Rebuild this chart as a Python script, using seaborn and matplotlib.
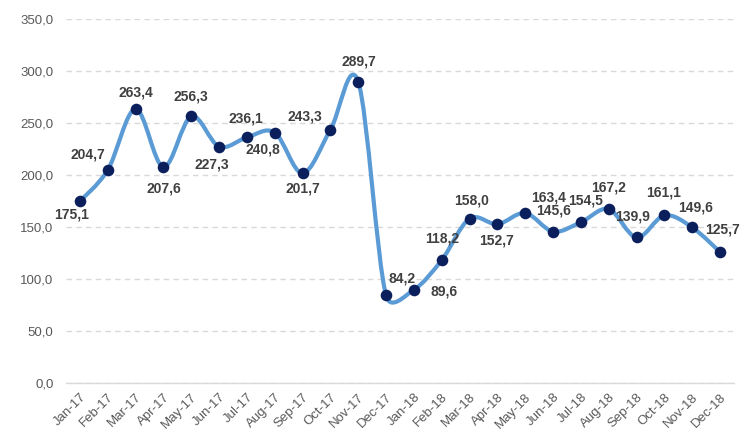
import matplotlib
matplotlib.use("Agg")
import matplotlib.pyplot as plt
from matplotlib.path import Path
from matplotlib.patches import PathPatch
from matplotlib.ticker import FuncFormatter, MultipleLocator
import numpy as np
import pandas as pd
import seaborn as sns

# ========== Data ==========
months = ["Jan-17", "Feb-17", "Mar-17", "Apr-17", "May-17", "Jun-17",
          "Jul-17", "Aug-17", "Sep-17", "Oct-17", "Nov-17", "Dec-17",
          "Jan-18", "Feb-18", "Mar-18", "Apr-18", "May-18", "Jun-18",
          "Jul-18", "Aug-18", "Sep-18", "Oct-18", "Nov-18", "Dec-18"]
values = [175.1, 204.7, 263.4, 207.6, 256.3, 227.3,
          236.1, 240.8, 201.7, 243.3, 289.7, 84.2,
          89.6, 118.2, 158.0, 152.7, 163.4, 145.6,
          154.5, 167.2, 139.9, 161.1, 149.6, 125.7]

# label offsets in pixels (style only)
label_dx = [-8, -20, 0, 0, 0, -7, -1, -12, 0, -26, 1, 16,
            30, 0, 2, -1, 23, 0, 5, 0, -4, -1, 3, 2]
label_dy = [-14, 16, 17, -21, 20, -18, 19, -17, -15, 13, 20, 17,
            -2, 22, 18, -16, 16, 21, 22, 22, 21, 23, 20, 23]

LINE_COLOR = "#5B9BD5"
MARKER_COLOR = "#0B1F5C"
TEXT_COLOR = "#404040"
TICK_COLOR = "#595959"

df = pd.DataFrame({"pos": np.arange(len(months)), "value": values, "month": months})


def smooth_path(ax, x, y, tension=1 / 6, clamp=0.6):
    """Excel-like smoothed line: Catmull-Rom Bezier arms, clamped to a share of the segment"""
    pts = np.column_stack([x, y]).astype(float)
    scr = ax.transData.transform(pts)
    n = len(pts)
    seg = np.hypot(*np.diff(scr, axis=0).T)

    def arm(i, k, seg_len):
        # arm vector (data units) from tangent (k - i), limited on screen
        vec = (pts[k] - pts[i]) * tension
        scr_len = np.hypot(*((scr[k] - scr[i]) * tension))
        if scr_len > clamp * seg_len:
            vec = vec * clamp * seg_len / scr_len
        return vec

    verts = [pts[0]]
    codes = [Path.MOVETO]
    for i in range(n - 1):
        p1, p2 = pts[i], pts[i + 1]
        c1 = p1 + arm(i - 1, i + 1, seg[i]) if i > 0 else p1
        c2 = p2 - arm(i, i + 2, seg[i]) if i + 2 < n else p2
        verts += [c1, c2, p2]
        codes += [Path.CURVE4] * 3
    return Path(verts, codes)


sns.set_theme(style="white")
plt.rcParams["font.family"] = ["Liberation Sans", "DejaVu Sans"]

fig = plt.figure(figsize=(7.42, 4.37), dpi=100)
ax = fig.add_axes([0.0889, 0.1236, 0.9003, 0.833])
ax.set_xlim(-0.5, len(months) - 0.5)
ax.set_ylim(0, 350)

# grid
ax.yaxis.set_major_locator(MultipleLocator(50))
ax.grid(axis="y", color="#D9D9D9", linestyle=(0, (4, 3)), linewidth=1)
ax.set_axisbelow(True)

# smooth line
patch = PathPatch(smooth_path(ax, df["pos"], df["value"]), facecolor="none",
                  edgecolor=LINE_COLOR, linewidth=3, capstyle="round",
                  joinstyle="round", zorder=2)
ax.add_patch(patch)

# markers
sns.scatterplot(data=df, x="pos", y="value", ax=ax, s=70, color=MARKER_COLOR,
                edgecolor=MARKER_COLOR, linewidth=0, zorder=3, legend=False)

# data labels
for x, v, dx, dy in zip(df["pos"], df["value"], label_dx, label_dy):
    ax.annotate(f"{v:.1f}".replace(".", ","), (x, v), xytext=(dx, dy),
                textcoords="offset pixels", ha="center", va="center",
                fontsize=10, fontweight="bold", color=TEXT_COLOR, zorder=4)

ax.set_xticks(df["pos"])
ax.set_xticklabels(months, rotation=45, ha="right", rotation_mode="anchor")
ax.yaxis.set_major_formatter(FuncFormatter(lambda v, _: f"{v:.1f}".replace(".", ",")))
ax.tick_params(axis="both", length=0, labelsize=9.5, colors=TICK_COLOR)
ax.tick_params(axis="y", pad=9)
ax.tick_params(axis="x", pad=6)
ax.set_xlabel("")
ax.set_ylabel("")

for side in ["top", "right", "left"]:
    ax.spines[side].set_visible(False)
ax.spines["bottom"].set_color("#D9D9D9")
ax.spines["bottom"].set_linewidth(1)

fig.savefig("out.png", dpi=100, facecolor="white")
